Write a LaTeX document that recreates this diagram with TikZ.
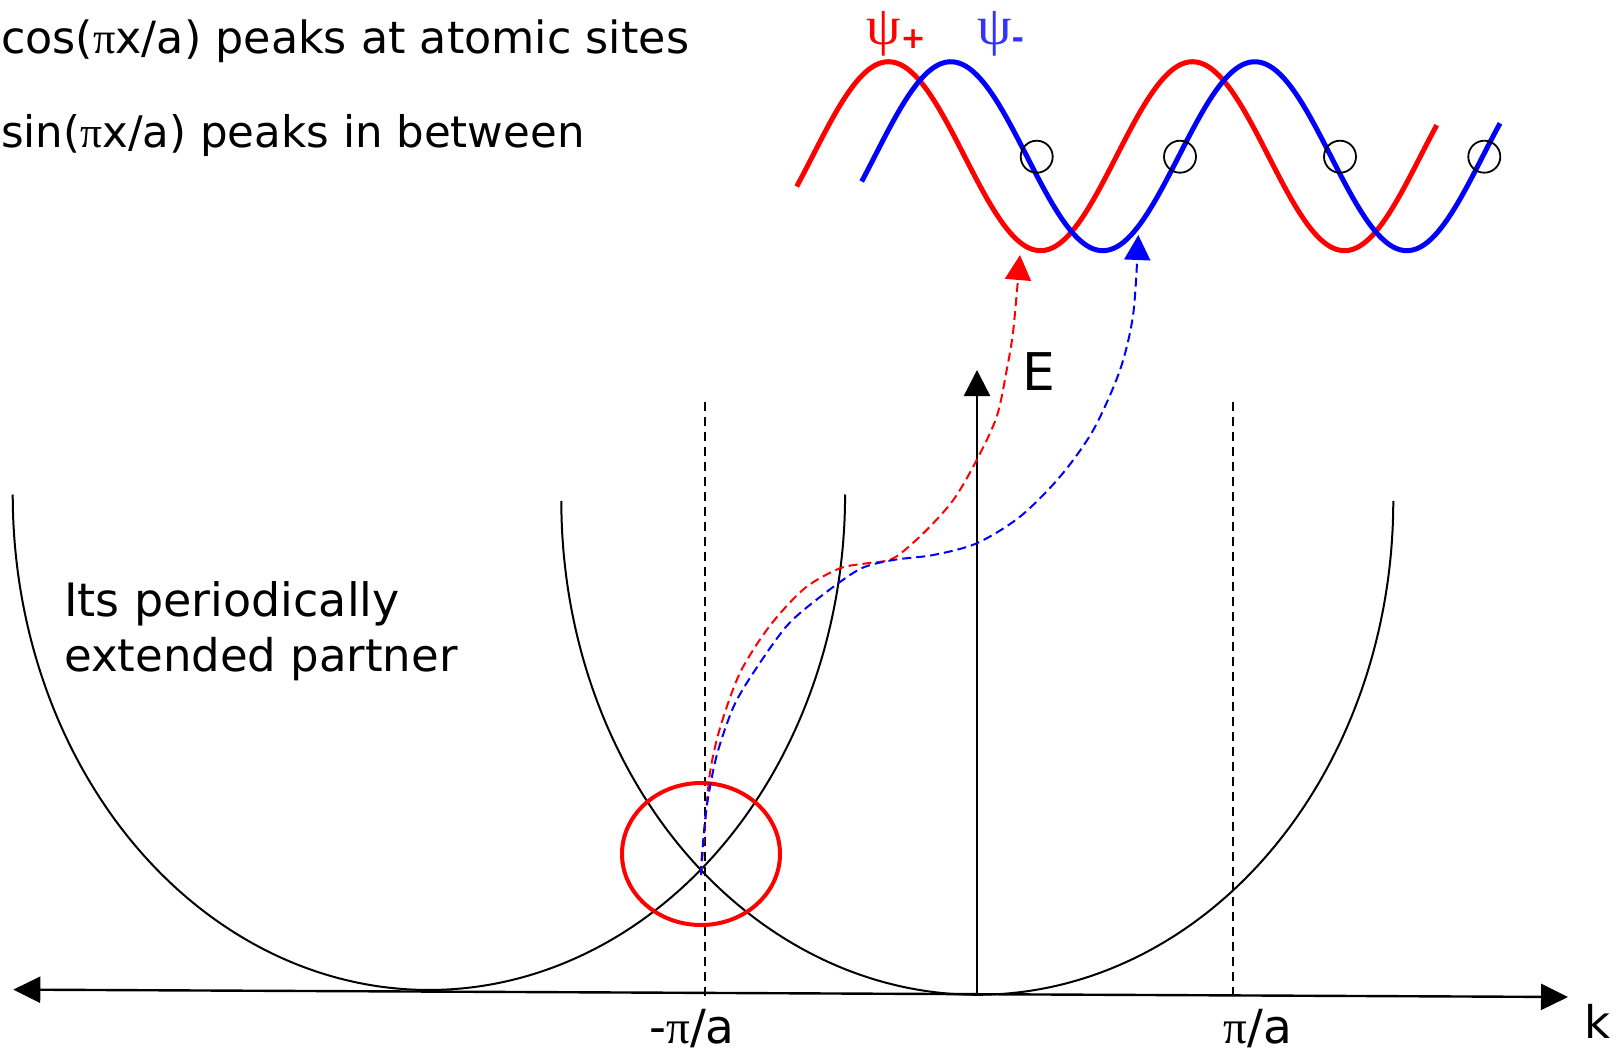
\documentclass[tikz,border=0pt]{standalone}
\usepackage{fontspec}
\setmainfont{DejaVu Sans}
\newfontfamily\grk{Liberation Serif}
\usetikzlibrary{arrows.meta,shapes.geometric}
\definecolor{wred}{RGB}{255,0,0}
\definecolor{wblue}{RGB}{0,0,255}
\definecolor{psiblue}{RGB}{51,51,255}
\begin{document}
\begin{tikzpicture}[x=1pt,y=-1pt,
  bandcurve/.style={line width=2pt, black},
  kaxis/.style={line width=2.4pt, black},
  bzdash/.style={line width=2pt, black, dash pattern=on 9pt off 6pt},
  conn/.style={line width=2pt, dash pattern=on 9pt off 5pt},
  wavepen/.style={line width=5pt},
  sitecirc/.style={draw=black, line width=1.8pt, circle, minimum size=32pt, inner sep=0pt},
  ahead/.style={-{Triangle[length=25pt,width=26pt]}},
  lbl/.style={inner sep=0pt}
]
\useasboundingbox (0,0) rectangle (1623,1054);

% top text
\node[lbl, anchor=base west, font=\fontsize{44.4}{50}\selectfont] (cosline) at (1,54) {cos({\grk π}x/a) peaks at atomic sites};
\node[lbl, anchor=base west, font=\fontsize{43.5}{50}\selectfont] (sinline) at (1,148) {sin({\grk π}x/a) peaks in between};

% psi labels
\node[lbl, anchor=base west, text=wred] (psip) at (866,45) {{\grk\fontsize{55}{55}\selectfont ψ}\raisebox{-4pt}{\fontsize{30}{30}\selectfont\bfseries +}};
\node[lbl, anchor=base west, text=psiblue] (psim) at (977,45) {{\grk\fontsize{55}{55}\selectfont ψ}\raisebox{-4pt}{\fontsize{30}{30}\selectfont\bfseries -}};

% band curves
\draw[bandcurve] plot[domain=0:180, samples=120, smooth] ({428.9+416.2*cos(\x)}, {494.5+495.5*sin(\x)});
\draw[bandcurve] plot[domain=0:180, samples=120, smooth] ({977.3+416*cos(\x)}, {500.8+494*sin(\x)});

% zone boundaries
\coordinate (mtop) at (705,402);
\coordinate (mbot) at (705,996);
\coordinate (ptop) at (1232.8,402);
\coordinate (pbot) at (1232.8,997);
\draw[bzdash] (mtop) -- (mbot);
\draw[bzdash] (ptop) -- (pbot);

% axes
\coordinate (kleft) at (13.3,989.6);
\coordinate (kright) at (1568,997);
\draw[kaxis, {Triangle[length=27pt,width=26pt]}-{Triangle[length=27pt,width=26pt]}] (kleft) -- (kright);
\coordinate (eorig) at (977,995);
\coordinate (etop) at (977,370);
\draw[kaxis, -{Triangle[length=26pt,width=26pt]}] (eorig) -- (etop);

% axis labels
\node[lbl, anchor=base west, font=\fontsize{52}{52}\selectfont] (elabel) at (1022,390) {E};
\node[lbl, anchor=base west, font=\fontsize{45}{45}\selectfont] (klabel) at (1584,1038) {k};
\node[lbl, anchor=base, font=\fontsize{47}{47}\selectfont] (mlabel) at (692,1043) {-{\grk π}/a};
\node[lbl, anchor=base, font=\fontsize{47}{47}\selectfont] (plabel) at (1258,1043) {{\grk π}/a};

% left text
\node[lbl, anchor=base west, font=\fontsize{46}{55}\selectfont] (partner1) at (64,616) {Its periodically};
\node[lbl, anchor=base west, font=\fontsize{45}{55}\selectfont] (partner2) at (64,671) {extended partner};

% red ring at crossing
\node[draw=wred, line width=4pt, ellipse, minimum width=158pt, minimum height=142pt, inner sep=0pt] (ring) at (701,854) {};

% waves
\draw[wavepen, wred] plot[domain=796.7:1436.7, samples=161, smooth] (\x, {156.2-94.5*cos((\x-888.5)/304*360)});
\draw[wavepen, wblue] plot[domain=861.7:1500, samples=161, smooth] (\x, {156.2-94.5*cos((\x-950.8)/304*360)});

% atomic sites
\node[sitecirc] (site1) at (1036.7,156.7) {};
\node[sitecirc] (site2) at (1180,156.7) {};
\node[sitecirc] (site3) at (1340,156.7) {};
\node[sitecirc] (site4) at (1484.3,156.7) {};

% connectors
\coordinate (cross) at (701,875);
\coordinate (redtip) at (1020,255);
\coordinate (bluetip) at (1138.3,235);
\draw[conn, wred, ahead] plot[smooth] coordinates {(cross) (705,824.4) (710,772.7) (720,728) (740,672.8) (770,625.6) (805,588) (840,568.3) (866.7,563.3) (893.3,558.3) (923.3,533.3) (953.3,500) (976.7,460) (996.7,416.7) (1006.7,370) (1013.3,330) (redtip)};
\draw[conn, wblue, ahead] plot[smooth] coordinates {(cross) (701.7,858.8) (706.7,807) (716.7,755.5) (733.3,707.3) (753.3,672.8) (786.7,626) (820,597) (860,569) (893.3,560) (933.3,555) (976.7,543.3) (1020,516.7) (1060,476.7) (1093.3,430) (1120,370) (1133.3,313.3) (bluetip)};
\end{tikzpicture}
\end{document}
